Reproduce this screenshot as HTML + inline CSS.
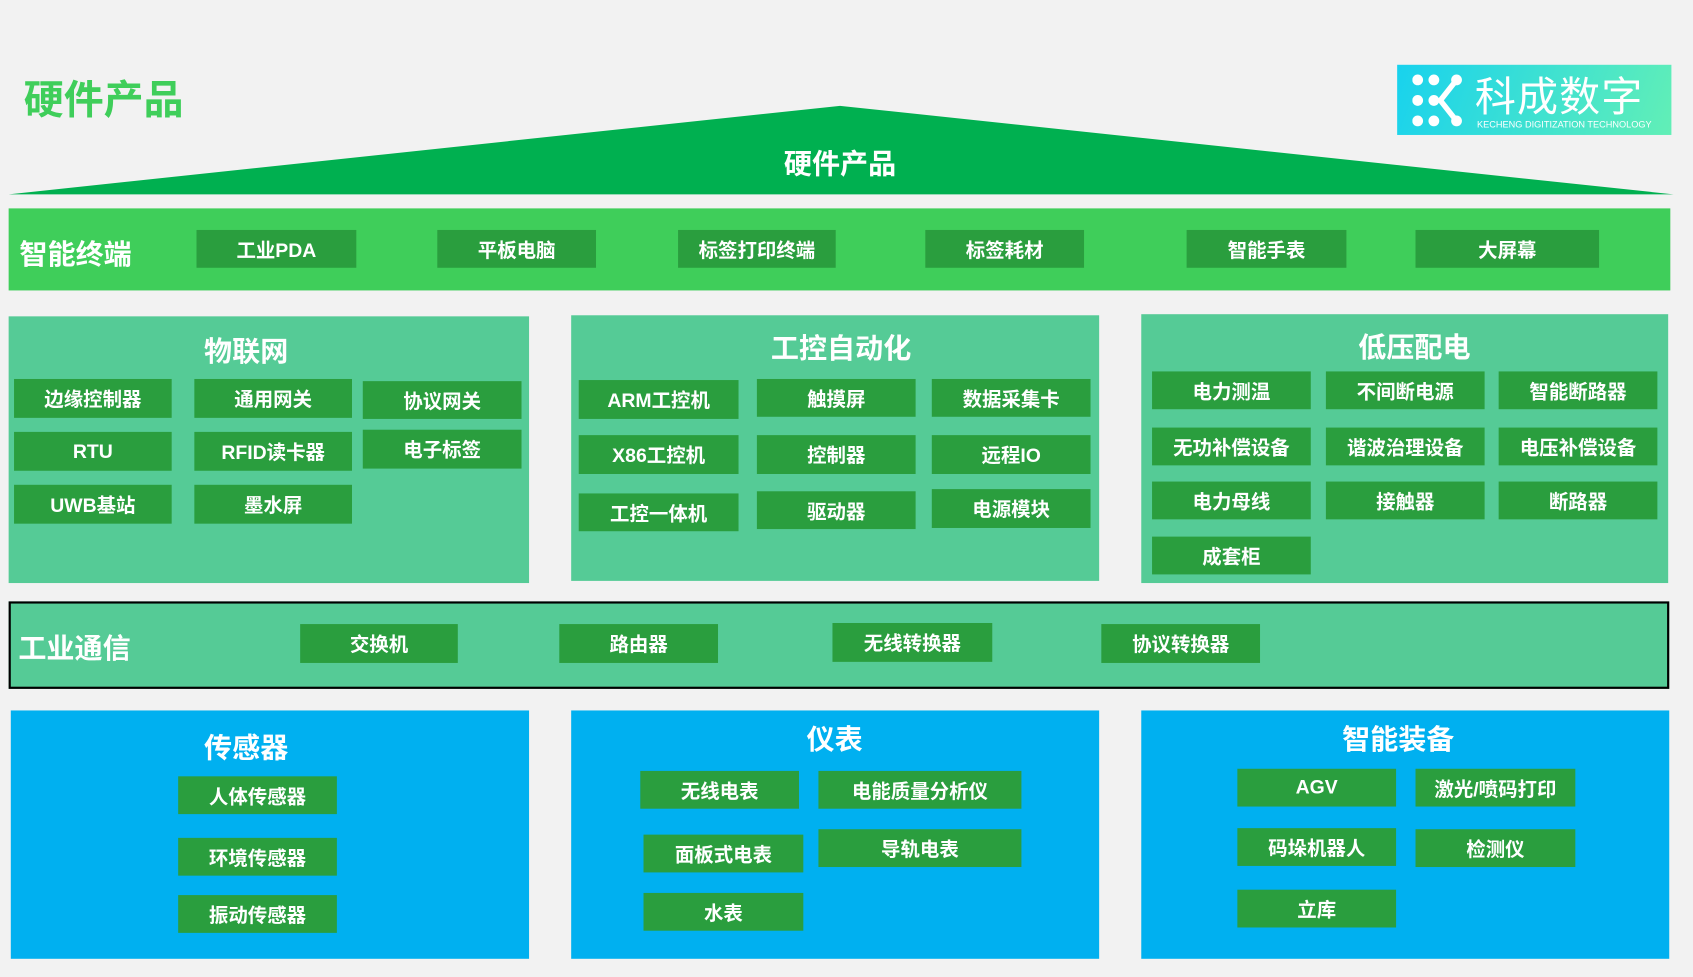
<!DOCTYPE html>
<html><head><meta charset="utf-8"><style>
html,body{margin:0;padding:0;background:#f2f2f2;width:1693px;height:977px;overflow:hidden}
#c{position:absolute;left:0;top:0;width:1568px;height:905px;transform:scale(1.07972);transform-origin:0 0;font-family:"Liberation Sans","Noto Sans CJK SC",sans-serif;font-weight:bold;color:#fff}
.a{position:absolute;box-sizing:border-box}
.b{position:absolute;background:#2a9e3e;display:flex;align-items:center;justify-content:center;font-size:18px;white-space:nowrap}
.t{position:absolute;font-size:26px;transform:translate(-50%,-50%);white-space:nowrap}
.l{position:absolute;font-size:26px;transform:translateY(-50%);white-space:nowrap}
</style></head><body><div id="c">
<div class="a" style="left:22px;top:62px;font-size:37px;color:#3fce5a;">硬件产品</div>
<div class="a" style="left:1294px;top:60px;width:254px;height:65px;background:linear-gradient(110deg,#18d2ee,#62efb6);">
 <svg style="position:absolute;left:14px;top:9px" width="50" height="48" viewBox="0 0 50 48" fill="#fff">
  <circle cx="5" cy="5" r="5"/><circle cx="5" cy="24" r="5"/><circle cx="5" cy="43" r="5"/>
  <circle cx="20" cy="5" r="5"/><circle cx="20" cy="24" r="5"/><circle cx="20" cy="43" r="5"/>
  <circle cx="41" cy="5" r="5"/><circle cx="41" cy="43" r="5"/>
  <path d="M41 5 L26 24 L41 43" stroke="#fff" stroke-width="5" fill="none"/>
 </svg>
 <div class="a" style="left:72px;top:-1px;font-size:38px;font-weight:normal;letter-spacing:1px">科成数字</div>
 <div class="a" style="left:74px;top:50px;font-size:8.5px;font-weight:normal">KECHENG DIGITIZATION TECHNOLOGY</div>
</div>
<svg class="a" style="left:0;top:0" width="1568" height="200"><polygon points="778,98 1550,180 8,180" fill="#00b050"/></svg>
<div class="t" style="left:778px;top:150px">硬件产品</div>

<div class="a" style="left:8px;top:193px;width:1539px;height:76px;background:#3fce5a"></div>
<div class="l" style="left:18px;top:234px">智能终端</div>
<div class="b" style="left:182px;top:213px;width:148px;height:35px">工业PDA</div>
<div class="b" style="left:405px;top:213px;width:147px;height:35px">平板电脑</div>
<div class="b" style="left:628px;top:213px;width:146px;height:35px">标签打印终端</div>
<div class="b" style="left:857px;top:213px;width:147px;height:35px">标签耗材</div>
<div class="b" style="left:1099px;top:213px;width:148px;height:35px">智能手表</div>
<div class="b" style="left:1311px;top:213px;width:170px;height:35px">大屏幕</div>

<div class="a" style="left:8px;top:293px;width:482px;height:247px;background:#55cb96"></div>
<div class="a" style="left:529px;top:292px;width:489px;height:246px;background:#55cb96"></div>
<div class="a" style="left:1057px;top:291px;width:488px;height:249px;background:#55cb96"></div>
<div class="t" style="left:228px;top:324px">物联网</div>
<div class="t" style="left:779px;top:321px">工控自动化</div>
<div class="t" style="left:1310px;top:320px">低压配电</div>
<div class="b" style="left:13px;top:351px;width:146px;height:36px">边缘控制器</div>
<div class="b" style="left:180px;top:351px;width:146px;height:36px">通用网关</div>
<div class="b" style="left:336px;top:353px;width:147px;height:35px">协议网关</div>
<div class="b" style="left:13px;top:400px;width:146px;height:36px">RTU</div>
<div class="b" style="left:180px;top:400px;width:146px;height:36px">RFID读卡器</div>
<div class="b" style="left:336px;top:398px;width:147px;height:36px">电子标签</div>
<div class="b" style="left:13px;top:449px;width:146px;height:36px">UWB基站</div>
<div class="b" style="left:180px;top:449px;width:146px;height:36px">墨水屏</div>

<div class="b" style="left:536px;top:352px;width:148px;height:36px">ARM工控机</div>
<div class="b" style="left:701px;top:351px;width:147px;height:35px">触摸屏</div>
<div class="b" style="left:863px;top:351px;width:147px;height:35px">数据采集卡</div>
<div class="b" style="left:536px;top:403px;width:148px;height:36px">X86工控机</div>
<div class="b" style="left:701px;top:403px;width:147px;height:36px">控制器</div>
<div class="b" style="left:863px;top:403px;width:147px;height:36px">远程IO</div>
<div class="b" style="left:536px;top:457px;width:148px;height:35px">工控一体机</div>
<div class="b" style="left:701px;top:455px;width:147px;height:35px">驱动器</div>
<div class="b" style="left:863px;top:453px;width:147px;height:36px">电源模块</div>

<div class="b" style="left:1067px;top:344px;width:147px;height:35px">电力测温</div>
<div class="b" style="left:1228px;top:344px;width:147px;height:35px">不间断电源</div>
<div class="b" style="left:1388px;top:344px;width:147px;height:35px">智能断路器</div>
<div class="b" style="left:1067px;top:396px;width:147px;height:35px">无功补偿设备</div>
<div class="b" style="left:1228px;top:396px;width:147px;height:35px">谐波治理设备</div>
<div class="b" style="left:1388px;top:396px;width:147px;height:35px">电压补偿设备</div>
<div class="b" style="left:1067px;top:446px;width:147px;height:35px">电力母线</div>
<div class="b" style="left:1228px;top:446px;width:147px;height:35px">接触器</div>
<div class="b" style="left:1388px;top:446px;width:147px;height:35px">断路器</div>
<div class="b" style="left:1067px;top:497px;width:147px;height:35px">成套柜</div>

<div class="a" style="left:8px;top:557px;width:1538px;height:81px;background:#55cb96;border:2px solid #000"></div>
<div class="l" style="left:17px;top:599px">工业通信</div>
<div class="b" style="left:278px;top:578px;width:146px;height:36px">交换机</div>
<div class="b" style="left:518px;top:578px;width:147px;height:36px">路由器</div>
<div class="b" style="left:771px;top:577px;width:148px;height:36px">无线转换器</div>
<div class="b" style="left:1020px;top:578px;width:147px;height:36px">协议转换器</div>

<div class="a" style="left:10px;top:658px;width:480px;height:230px;background:#00b0f0"></div>
<div class="a" style="left:529px;top:658px;width:489px;height:230px;background:#00b0f0"></div>
<div class="a" style="left:1057px;top:658px;width:489px;height:230px;background:#00b0f0"></div>
<div class="t" style="left:228px;top:691px">传感器</div>
<div class="t" style="left:773px;top:683px">仪表</div>
<div class="t" style="left:1295px;top:683px">智能装备</div>
<div class="b" style="left:165px;top:719px;width:147px;height:35px">人体传感器</div>
<div class="b" style="left:165px;top:776px;width:147px;height:35px">环境传感器</div>
<div class="b" style="left:165px;top:829px;width:147px;height:35px">振动传感器</div>
<div class="b" style="left:593px;top:714px;width:147px;height:35px">无线电表</div>
<div class="b" style="left:758px;top:714px;width:188px;height:35px">电能质量分析仪</div>
<div class="b" style="left:596px;top:773px;width:148px;height:35px">面板式电表</div>
<div class="b" style="left:758px;top:768px;width:188px;height:35px">导轨电表</div>
<div class="b" style="left:596px;top:827px;width:148px;height:35px">水表</div>
<div class="b" style="left:1146px;top:712px;width:147px;height:35px">AGV</div>
<div class="b" style="left:1311px;top:712px;width:148px;height:35px">激光/喷码打印</div>
<div class="b" style="left:1146px;top:767px;width:147px;height:35px">码垛机器人</div>
<div class="b" style="left:1311px;top:768px;width:148px;height:35px">检测仪</div>
<div class="b" style="left:1146px;top:824px;width:147px;height:35px">立库</div>
</div></body></html>
